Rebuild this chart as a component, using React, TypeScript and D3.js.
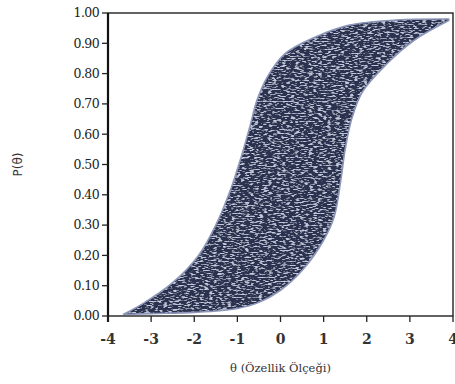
import React, { useRef, useEffect } from "react";
import * as d3 from "d3";

// boundary curves of the shaded band
const upperTheta = [-3.65, -3.2, -2.5, -1.9, -1.5, -1.15, -0.9, -0.7, -0.55, -0.3, 0.1, 0.8, 1.6, 2.7, 3.9];
const upperP = [0.005, 0.04, 0.11, 0.2, 0.3, 0.42, 0.53, 0.63, 0.71, 0.79, 0.865, 0.92, 0.96, 0.977, 0.98];
const lowerTheta = [-3.65, -3.0, -2.0, -1.0, -0.5, 0.0, 0.5, 1.0, 1.25, 1.4, 1.5, 1.65, 1.9, 2.45, 3.1, 3.9];
const lowerP = [0.005, 0.008, 0.012, 0.025, 0.045, 0.085, 0.15, 0.25, 0.33, 0.45, 0.55, 0.65, 0.74, 0.83, 0.91, 0.975];

const xTicks = [-4, -3, -2, -1, 0, 1, 2, 3, 4];
const yTicks = [0, 0.1, 0.2, 0.3, 0.4, 0.5, 0.6, 0.7, 0.8, 0.9, 1.0];

const xLabel = "θ (Özellik Ölçeği)";
const yLabel = "P(θ)";

export default function App() {
    const ref = useRef<SVGSVGElement | null>(null);

    useEffect(() => {
        if (!ref.current) return;
        const svg = d3.select(ref.current);
        svg.selectAll("*").remove();

        const left = 108, right = 453, top = 13, bottom = 316;
        const x = d3.scaleLinear().domain([-4, 4]).range([left, right]);
        const y = d3.scaleLinear().domain([0, 1]).range([bottom, top]);

        // scanned-print grain: light horizontal streaks inside the band
        const defs = svg.append("defs");
        const f = defs.append("filter").attr("id", "grain")
            .attr("x", 0).attr("y", 0).attr("width", 1).attr("height", 1);
        f.append("feTurbulence").attr("type", "fractalNoise")
            .attr("baseFrequency", "0.22 0.75").attr("numOctaves", 2).attr("seed", 5).attr("result", "noise");
        f.append("feColorMatrix").attr("in", "noise").attr("type", "matrix")
            .attr("values", "0 0 0 0 0.55  0 0 0 0 0.6  0 0 0 0 0.74  5 0 0 0 -2.55")
            .attr("result", "spots");
        f.append("feComposite").attr("in", "spots").attr("in2", "SourceGraphic")
            .attr("operator", "in").attr("result", "s2");
        const m = f.append("feMerge");
        m.append("feMergeNode").attr("in", "SourceGraphic");
        m.append("feMergeNode").attr("in", "s2");

        // shaded band
        const upper: [number, number][] = upperTheta.map((t, i) => [t, upperP[i]]);
        const lower: [number, number][] = lowerTheta.map((t, i) => [t, lowerP[i]]);
        const line = d3.line<[number, number]>()
            .x(d => x(d[0]))
            .y(d => y(d[1]))
            .curve(d3.curveCatmullRom.alpha(0.5));
        const band = line(upper)! + "L" + line(lower.slice().reverse())!.slice(1) + "Z";

        svg.append("path")
            .attr("d", band)
            .attr("fill", "#2b3150")
            .attr("filter", "url(#grain)");
        svg.append("path")
            .attr("d", band)
            .attr("fill", "none")
            .attr("stroke", "#8c96b8")
            .attr("stroke-width", 1.6);

        // frame
        svg.append("rect")
            .attr("x", left).attr("y", top)
            .attr("width", right - left).attr("height", bottom - top)
            .attr("fill", "none").attr("stroke", "#222").attr("stroke-width", 1.4);
        svg.append("line")
            .attr("x1", left).attr("x2", left).attr("y1", top).attr("y2", bottom + 6)
            .attr("stroke", "#111").attr("stroke-width", 2.2);

        // y axis
        const yg = svg.append("g").attr("font-family", "'DejaVu Serif', serif")
            .attr("font-size", 12.5).attr("fill", "#222");
        yTicks.forEach(v => {
            yg.append("line")
                .attr("x1", left - 6).attr("x2", left).attr("y1", y(v)).attr("y2", y(v))
                .attr("stroke", "#222").attr("stroke-width", 1.3);
            yg.append("text")
                .attr("x", left - 9).attr("y", y(v)).attr("dy", "0.35em")
                .attr("text-anchor", "end").attr("letter-spacing", "-0.6")
                .text(v.toFixed(2));
        });

        // x axis
        const xg = svg.append("g").attr("font-family", "'DejaVu Serif', serif")
            .attr("font-size", 14).attr("font-weight", "bold").attr("fill", "#333");
        xTicks.forEach(v => {
            xg.append("line")
                .attr("x1", x(v)).attr("x2", x(v)).attr("y1", bottom).attr("y2", bottom + 6)
                .attr("stroke", "#222").attr("stroke-width", 1.3);
            xg.append("text")
                .attr("x", x(v)).attr("y", bottom + 28)
                .attr("text-anchor", "middle")
                .text(v);
        });

        svg.append("text")
            .attr("x", x(0)).attr("y", 372)
            .attr("text-anchor", "middle")
            .attr("font-family", "'DejaVu Serif', serif")
            .attr("font-size", 11.5).attr("fill", "#333")
            .text(xLabel);

        svg.append("text")
            .attr("transform", `translate(22,${y(0.5)}) rotate(-90)`)
            .attr("text-anchor", "middle")
            .attr("font-family", "'DejaVu Sans', sans-serif")
            .attr("font-size", 12).attr("fill", "#333")
            .text(yLabel);
    }, []);

    return (
        <svg ref={ref} width={455} height={384}
            style={{ position: "absolute", left: 0, top: 0, background: "#fff" }} />
    );
}
